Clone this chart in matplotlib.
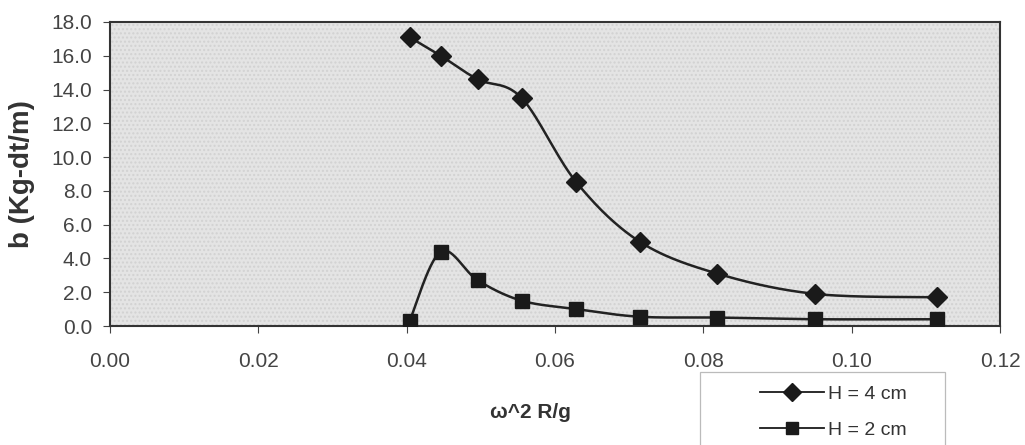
import numpy as np
import matplotlib.pyplot as plt

# -- Data --
x_vals = [0.0404, 0.0446, 0.0496, 0.0555, 0.0629, 0.0714, 0.0819, 0.0951, 0.1115]
b_h4 = [17.1, 16.0, 14.6, 13.5, 8.5, 5.0, 3.1, 1.9, 1.7]
b_h2 = [0.3, 4.4, 2.7, 1.5, 1.0, 0.55, 0.5, 0.4, 0.4]
labels = ['H = 4 cm', 'H = 2 cm']


def smooth(x, y, n=30):
    # Catmull-Rom style smoothing, like the spreadsheet "smoothed line"
    x = np.asarray(x, float)
    y = np.asarray(y, float)
    px = np.concatenate([[x[0]], x, [x[-1]]])
    py = np.concatenate([[y[0]], y, [y[-1]]])
    xs, ys = [], []
    t = np.linspace(0, 1, n)
    for i in range(1, len(px) - 2):
        p0, p1, p2, p3 = (np.array([px[j], py[j]]) for j in range(i - 1, i + 3))
        c1 = p1 + (p2 - p0) / 6
        c2 = p2 - (p3 - p1) / 6
        for tt in t:
            pt = (1-tt)**3*p1 + 3*(1-tt)**2*tt*c1 + 3*(1-tt)*tt**2*c2 + tt**3*p2
            xs.append(pt[0]); ys.append(pt[1])
    return xs, ys


plt.rcParams['font.family'] = ['Liberation Sans', 'DejaVu Sans']
fig = plt.figure(figsize=(10.25, 4.45), dpi=100)
ax = fig.add_axes([0.1073, 0.2674, 0.8683, 0.6832])
ax.set_facecolor('#e4e4e4')
# fine dotted texture of the printed plot area
ax.add_patch(plt.Rectangle((0, 0), 1, 1, transform=ax.transAxes, fill=False,
                           hatch='....', edgecolor='#d2d2d2', lw=0, zorder=0))

lines = []
for ys, mk, ms in [(b_h4, 'D', 10), (b_h2, 's', 9.5)]:
    sx, sy = smooth(x_vals, ys)
    ax.plot(sx, sy, '-', color='#222222', lw=1.8, zorder=2)
    ax.plot(x_vals, ys, mk, color='#1a1a1a', ms=ms, zorder=3)
    h, = ax.plot([], [], '-', marker=mk, color='#1a1a1a', ms=ms - 1, lw=1.3)
    lines.append(h)

ax.set_xlim(0, 0.12)
ax.set_ylim(0, 18)
ax.set_xticks(np.arange(0, 0.121, 0.02))
ax.set_xticklabels(['%.2f' % v for v in np.arange(0, 0.121, 0.02)])
ax.set_yticks(np.arange(0, 18.1, 2))
ax.set_yticklabels(['%.1f' % v for v in np.arange(0, 18.1, 2)])
ax.tick_params(axis='x', labelsize=15, colors='#444444', pad=14, length=5)
ax.tick_params(axis='y', labelsize=15, colors='#444444', length=5, pad=8)
for s in ax.spines.values():
    s.set_color('#333333')
    s.set_linewidth(1.5)

ax.set_ylabel('b (Kg-dt/m)', fontsize=20, fontweight='bold', color='#333333')
ax.yaxis.set_label_coords(-0.099, 0.5)
ax.yaxis.label.set_va('center')
ax.set_xlabel('ω^2 R/g', fontsize=15, fontweight='bold', color='#333333')
ax.xaxis.set_label_coords(0.472, -0.283)
ax.xaxis.label.set_va('center')

# legend frame, cut by the bottom edge as in the scan
fig.patches.append(plt.Rectangle((700 / 1025, -0.02), 245 / 1025, 73 / 445 + 0.02,
                                 transform=fig.transFigure, fill=False,
                                 edgecolor='#bbbbbb', lw=0.9))
leg = fig.legend(lines, labels, loc='upper left', bbox_to_anchor=(0.741, 0.135),
                 fontsize=14, frameon=False, handlelength=3.3, handletextpad=0.2,
                 borderpad=0, labelspacing=0.95, borderaxespad=0)
for t in leg.get_texts():
    t.set_color('#333333')

fig.savefig('out.png', dpi=100)
